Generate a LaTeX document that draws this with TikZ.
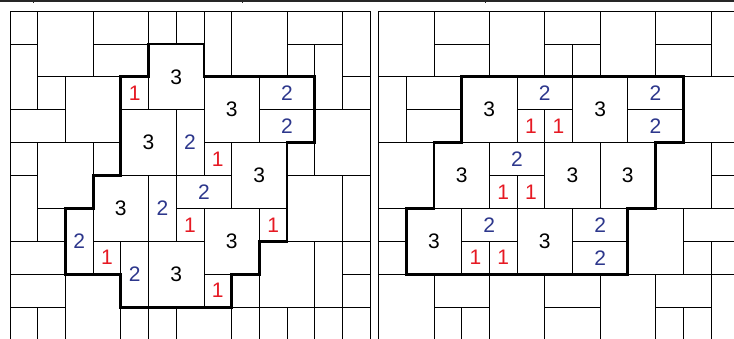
\documentclass[tikz,border=0pt]{standalone}
\usepackage{fontspec}
\setmainfont{Liberation Sans}
\definecolor{onered}{RGB}{230,25,35}
\definecolor{twoblue}{RGB}{45,55,140}
\tikzset{cell/.style={draw=black,line width=.8pt},
  rim/.style={draw=black,line width=2.8pt,line join=miter},
  num/.style={font=\fontsize{21}{21}\selectfont,inner sep=0pt},
  n1/.style={num,text=onered},n2/.style={num,text=twoblue},n3/.style={num,text=black}}
% col/row/width/height/number (0 = empty tile)
\newcommand{\tiling}[2]{%
  \foreach \c/\r/\w/\h/\n in {#2}{%
    \draw[cell] (\c,\r) rectangle ++(\w,\h);
    \ifnum\n>0 \node[n\n] (#1-\c-\r) at (\c+\w/2,\r+\h/2) {\n};\fi}}

\begin{document}
\begin{tikzpicture}[x=1pt,y=-1pt]
\useasboundingbox (0,0) rectangle (734,338);
\clip (0,0) rectangle (734,338);
\fill[white] (0,0) rectangle (734,338);
% edge of the figure above
\draw[line width=1.5pt,black!85] (0,.8)--(734,.8);
\foreach \x in {33,242,485}{\draw[line width=1pt,black!85](\x,0)--(\x,3);}
% left panel
\begin{scope}[shift={(10pt,-11pt)},x=27.7pt,y=-32.9pt]
\tiling{L}{0/0/1/1/0, 1/0/2/2/0, 3/0/2/1/0, 5/0/1/1/0, 6/0/1/1/0, 7/0/1/2/0, 8/0/2/2/0, 10/0/2/1/0, 12/0/1/2/0,
  0/1/1/2/0, 3/1/2/1/0, 5/1/2/2/3, 10/1/1/1/0, 11/1/1/2/0,
  1/2/1/1/0, 2/2/2/2/0, 4/2/1/1/1, 7/2/2/2/3, 9/2/2/1/2, 12/2/1/1/0,
  0/3/2/1/0, 4/3/2/2/3, 6/3/1/2/2, 9/3/2/1/2, 11/3/2/2/0,
  0/4/1/1/0, 1/4/2/2/0, 3/4/1/1/0, 7/4/1/1/1, 8/4/2/2/3, 10/4/1/1/0,
  0/5/1/2/0, 3/5/2/2/3, 5/5/1/2/2, 6/5/2/1/2, 10/5/2/2/0, 12/5/1/2/0,
  1/6/1/1/0, 2/6/1/2/2, 6/6/1/1/1, 7/6/2/2/3, 9/6/1/1/1,
  0/7/2/1/0, 3/7/1/1/1, 4/7/1/2/2, 5/7/2/2/3, 9/7/2/2/0, 11/7/1/2/0, 12/7/1/1/0,
  0/8/2/1/0, 2/8/2/2/0, 7/8/1/1/1, 8/8/1/1/0, 12/8/1/1/0,
  0/9/1/1/0, 1/9/1/1/0, 4/9/1/1/0, 5/9/1/1/0, 6/9/2/1/0, 8/9/1/1/0, 9/9/1/1/0, 10/9/1/1/0, 11/9/1/1/0, 12/9/1/1/0}
\draw[rim] (5,1)--(7,1)--(7,2)--(11,2)--(11,4)--(10,4)--(10,7)--(9,7)--(9,8)--(8,8)--(8,9)--(4,9)--(4,8)--(2,8)
  --(2,6)--(3,6)--(3,5)--(4,5)--(4,2)--(5,2)--cycle;
\end{scope}
% right panel
\begin{scope}[shift={(378.5pt,-11pt)},x=27.7pt,y=-32.9pt]
\tiling{R}{0/0/2/2/0, 2/0/2/1/0, 4/0/2/2/0, 6/0/2/1/0, 8/0/2/2/0, 10/0/2/1/0, 12/0/1/2/0,
  2/1/2/1/0, 6/1/1/1/0, 7/1/1/1/0, 10/1/2/1/0,
  0/2/1/2/0, 1/2/2/1/0, 3/2/2/2/3, 5/2/2/1/2, 7/2/2/2/3, 9/2/2/1/2, 11/2/2/2/0,
  1/3/2/1/0, 5/3/1/1/1, 6/3/1/1/1, 9/3/2/1/2,
  0/4/2/2/0, 2/4/2/2/3, 4/4/2/1/2, 6/4/2/2/3, 8/4/2/2/3, 10/4/2/2/0, 12/4/1/1/0,
  4/5/1/1/1, 5/5/1/1/1, 12/5/1/1/0,
  0/6/1/1/0, 1/6/2/2/3, 3/6/2/1/2, 5/6/2/2/3, 7/6/2/1/2, 9/6/2/2/0, 11/6/2/1/0,
  0/7/1/1/0, 3/7/1/1/1, 4/7/1/1/1, 7/7/2/1/2, 11/7/1/1/0, 12/7/1/1/0,
  0/8/2/2/0, 2/8/2/1/0, 4/8/2/2/0, 6/8/2/1/0, 8/8/2/2/0, 10/8/2/1/0, 12/8/1/2/0,
  2/9/1/1/0, 3/9/1/1/0, 6/9/2/1/0, 10/9/1/1/0, 11/9/1/1/0}
\draw[rim] (3,2)--(11,2)--(11,4)--(10,4)--(10,6)--(9,6)--(9,8)--(1,8)--(1,6)--(2,6)--(2,4)--(3,4)--cycle;
\end{scope}
\end{tikzpicture}
\end{document}
